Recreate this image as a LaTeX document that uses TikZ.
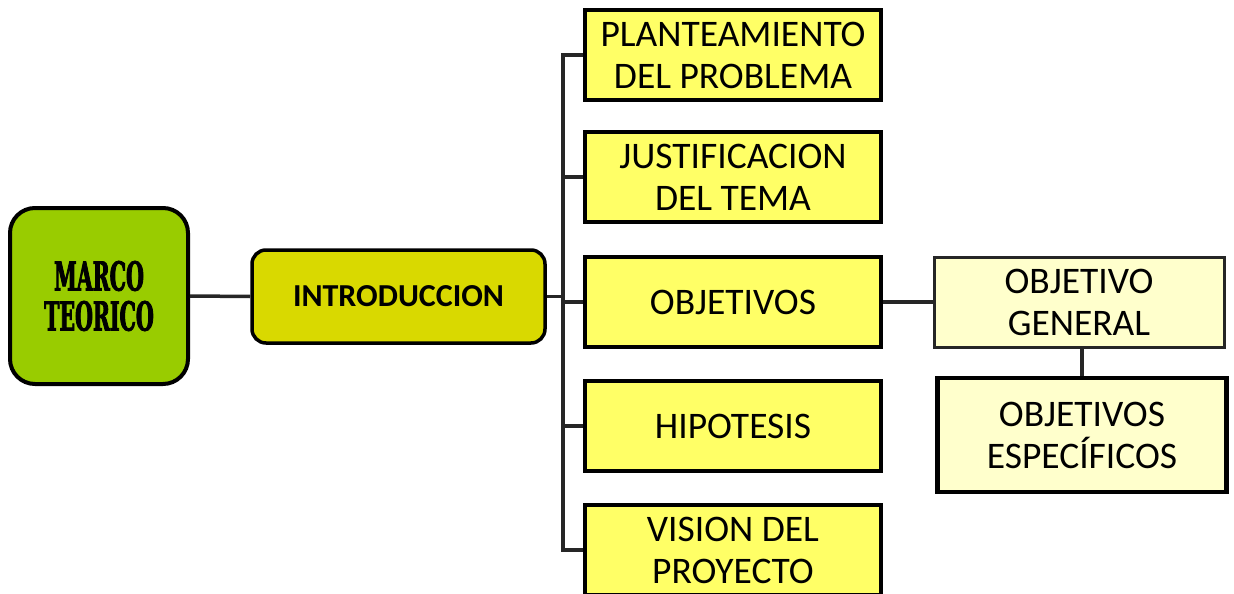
\documentclass[tikz,border=0pt]{standalone}
\usepackage{fontspec}
\setmainfont{Carlito}
\newfontfamily\marcofont[FakeStretch=0.57,FakeBold=2]{DejaVu Serif Condensed}
\usetikzlibrary{calc}
\definecolor{marcogreen}{HTML}{99CC00}
\definecolor{introyellow}{HTML}{D9D900}
\definecolor{boxyellow}{HTML}{FFFF66}
\definecolor{paleyellow}{HTML}{FFFFCC}
\definecolor{linegray}{HTML}{262626}
\tikzset{
  boxtext/.style={font=\fontsize{37.5}{42}\selectfont, align=center, inner sep=0pt},
  yellowbox/.style={boxtext, draw=black, line width=4pt, fill=boxyellow,
    minimum width=296pt, minimum height=90pt},
  conn/.style={draw=linegray, line width=3.5pt},
}
\begin{document}
\begin{tikzpicture}[x=1pt,y=-1pt]
\useasboundingbox (0,0) rectangle (1234,594);
\node[draw=black, line width=4pt, fill=marcogreen, rounded corners=25pt,
  minimum width=178pt, minimum height=176pt, inner sep=0pt, align=center,
  font=\marcofont\bfseries\fontsize{40}{40}\selectfont] (marco) at (99,296) {MARCO\\TEORICO};
\node[draw=black, line width=3.5pt, fill=introyellow, rounded corners=14pt,
  minimum width=293pt, minimum height=93pt, inner sep=0pt,
  font=\bfseries\fontsize{32}{36}\selectfont] (intro) at (398.5,296.5) {INTRODUCCION};
\node[yellowbox] (p1) at (733,55) {PLANTEAMIENTO\\DEL PROBLEMA};
\node[yellowbox] (p2) at (733,177) {JUSTIFICACION\\DEL TEMA};
\node[yellowbox] (p3) at (733,302) {OBJETIVOS};
\node[yellowbox] (p4) at (733,426) {HIPOTESIS};
\node[yellowbox] (p5) at (733,550) {VISION DEL\\PROYECTO};
\node[boxtext, draw=linegray, line width=3pt, fill=paleyellow,
  minimum width=290pt, minimum height=90pt] (og) at (1079,302) {OBJETIVO\\GENERAL};
\node[boxtext, draw=black, line width=4.5pt, fill=paleyellow,
  minimum width=289pt, minimum height=114pt] (oe) at (1082,435) {OBJETIVOS\\ESPECÍFICOS};
\coordinate (trunk) at (563,0);
\draw[conn] (marco.east) -- (intro.west);
\draw[conn] (intro.east) -- (intro.east -| trunk);
\draw[conn] (p1.west) -- (p1.west -| trunk) -- (p5.west -| trunk) -- (p5.west);
\draw[conn] (p2.west -| trunk) -- (p2.west);
\draw[conn] (p3.west -| trunk) -- (p3.west);
\draw[conn] (p4.west -| trunk) -- (p4.west);
\draw[conn] (p3.east) -- (og.west);
\draw[conn] (oe.north |- og.south) -- (oe.north);
\end{tikzpicture}
\end{document}
